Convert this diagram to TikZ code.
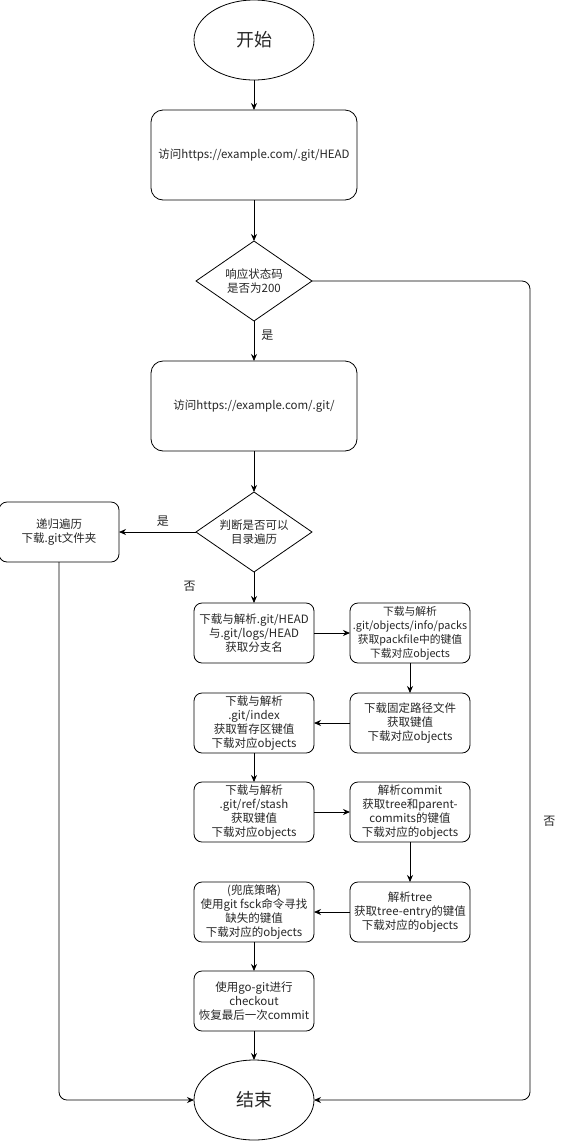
\documentclass[tikz,border=0pt]{standalone}
\usepackage{fontspec}
\setmainfont{Noto Sans CJK SC}
\usepackage{tikz}
\usetikzlibrary{arrows.meta,positioning,shapes.geometric}

\begin{document}
\begin{tikzpicture}[x=1pt,y=1pt,>={Stealth[length=7pt,width=6pt]},line width=0.8pt,
 font=\fontsize{11.5}{14}\selectfont,text=black!85,outer sep=0pt,
 term/.style={ellipse,draw,minimum width=120pt,minimum height=80pt,inner sep=0pt,
              font=\fontsize{18}{20}\selectfont},
 bigbox/.style={rounded corners=12pt,draw,minimum width=206pt,minimum height=90pt,
                align=center,inner sep=1pt},
 stepbox/.style={rounded corners=8pt,draw,minimum width=120pt,minimum height=60pt,
                 align=center,inner sep=1pt},
 choice/.style={diamond,draw,aspect=1.6,inner sep=0pt,minimum width=116pt,
                minimum height=80pt,align=center},
 lbl/.style={font=\fontsize{12}{14}\selectfont}]
\useasboundingbox (0,0) rectangle (581,-1141);
\node[term] (start) at (254,-40) {开始};
\node[bigbox,below=30pt of start] (head) {访问https://example.com/.git/HEAD};
\node[choice,below=41pt of head] (code) {响应状态码\\是否为200};
\node[bigbox,below=40pt of code] (root) {访问https://example.com/.git/};
\node[choice,below=41pt of root] (list) {判断是否可以\\目录遍历};
\node[stepbox,left=77pt of list] (walk) {递归遍历\\下载.git文件夹};
\node[stepbox,below=31pt of list] (gethead) {下载与解析.git/HEAD\\与.git/logs/HEAD\\获取分支名};
\node[stepbox,right=36pt of gethead,font=\fontsize{10.8}{14}\selectfont] (packs) {下载与解析\\.git/objects/info/packs\\获取packfile中的键值\\下载对应objects};
\node[stepbox,below=30pt of gethead] (index) {下载与解析\\.git/index\\获取暂存区键值\\下载对应objects};
\node[stepbox,right=36pt of index] (fixed) {下载固定路径文件\\获取键值\\下载对应objects};
\node[stepbox,below=29pt of index] (stash) {下载与解析\\.git/ref/stash\\获取键值\\下载对应objects};
\node[stepbox,right=36pt of stash] (commit) {解析commit\\获取tree和parent-\\commits的键值\\下载对应的objects};
\node[stepbox,below=40pt of stash] (fsck) {(兜底策略)\\使用git fsck命令寻找\\缺失的键值\\下载对应的objects};
\node[stepbox,right=36pt of fsck] (tree) {解析tree\\获取tree-entry的键值\\下载对应的objects};
\node[stepbox,below=29pt of fsck] (checkout) {使用go-git进行\\checkout\\恢复最后一次commit};
\node[term,below=29pt of checkout] (end) {结束};
\coordinate (side) at (530,0);
% main line
\draw[->] (start)--(head);
\draw[->] (head)--(code);
\draw[->] (code)--node[lbl,right=4pt,pos=0.35]{是}(root);
\draw[->] (root)--(list);
\draw[->] (list)--node[lbl,above=2pt,pos=0.43]{是}(walk);
\draw[->] (list)--node[lbl,left=55pt,pos=0.45]{否}(gethead);
\draw[->] (gethead)--(packs);
\draw[->] (packs)--(fixed);
\draw[->] (fixed)--(index);
\draw[->] (index)--(stash);
\draw[->] (stash)--(commit);
\draw[->] (commit)--(tree);
\draw[->] (tree)--(fsck);
\draw[->] (fsck)--(checkout);
\draw[->] (checkout)--(end);
% side lines
\draw[->,rounded corners=8pt] (code.east) -| node[lbl,right=10pt,pos=0.83]{否} (side |- end.east) -- (end.east);
\draw[->,rounded corners=8pt] (walk.south) |- (end.west);
\end{tikzpicture}
\end{document}
